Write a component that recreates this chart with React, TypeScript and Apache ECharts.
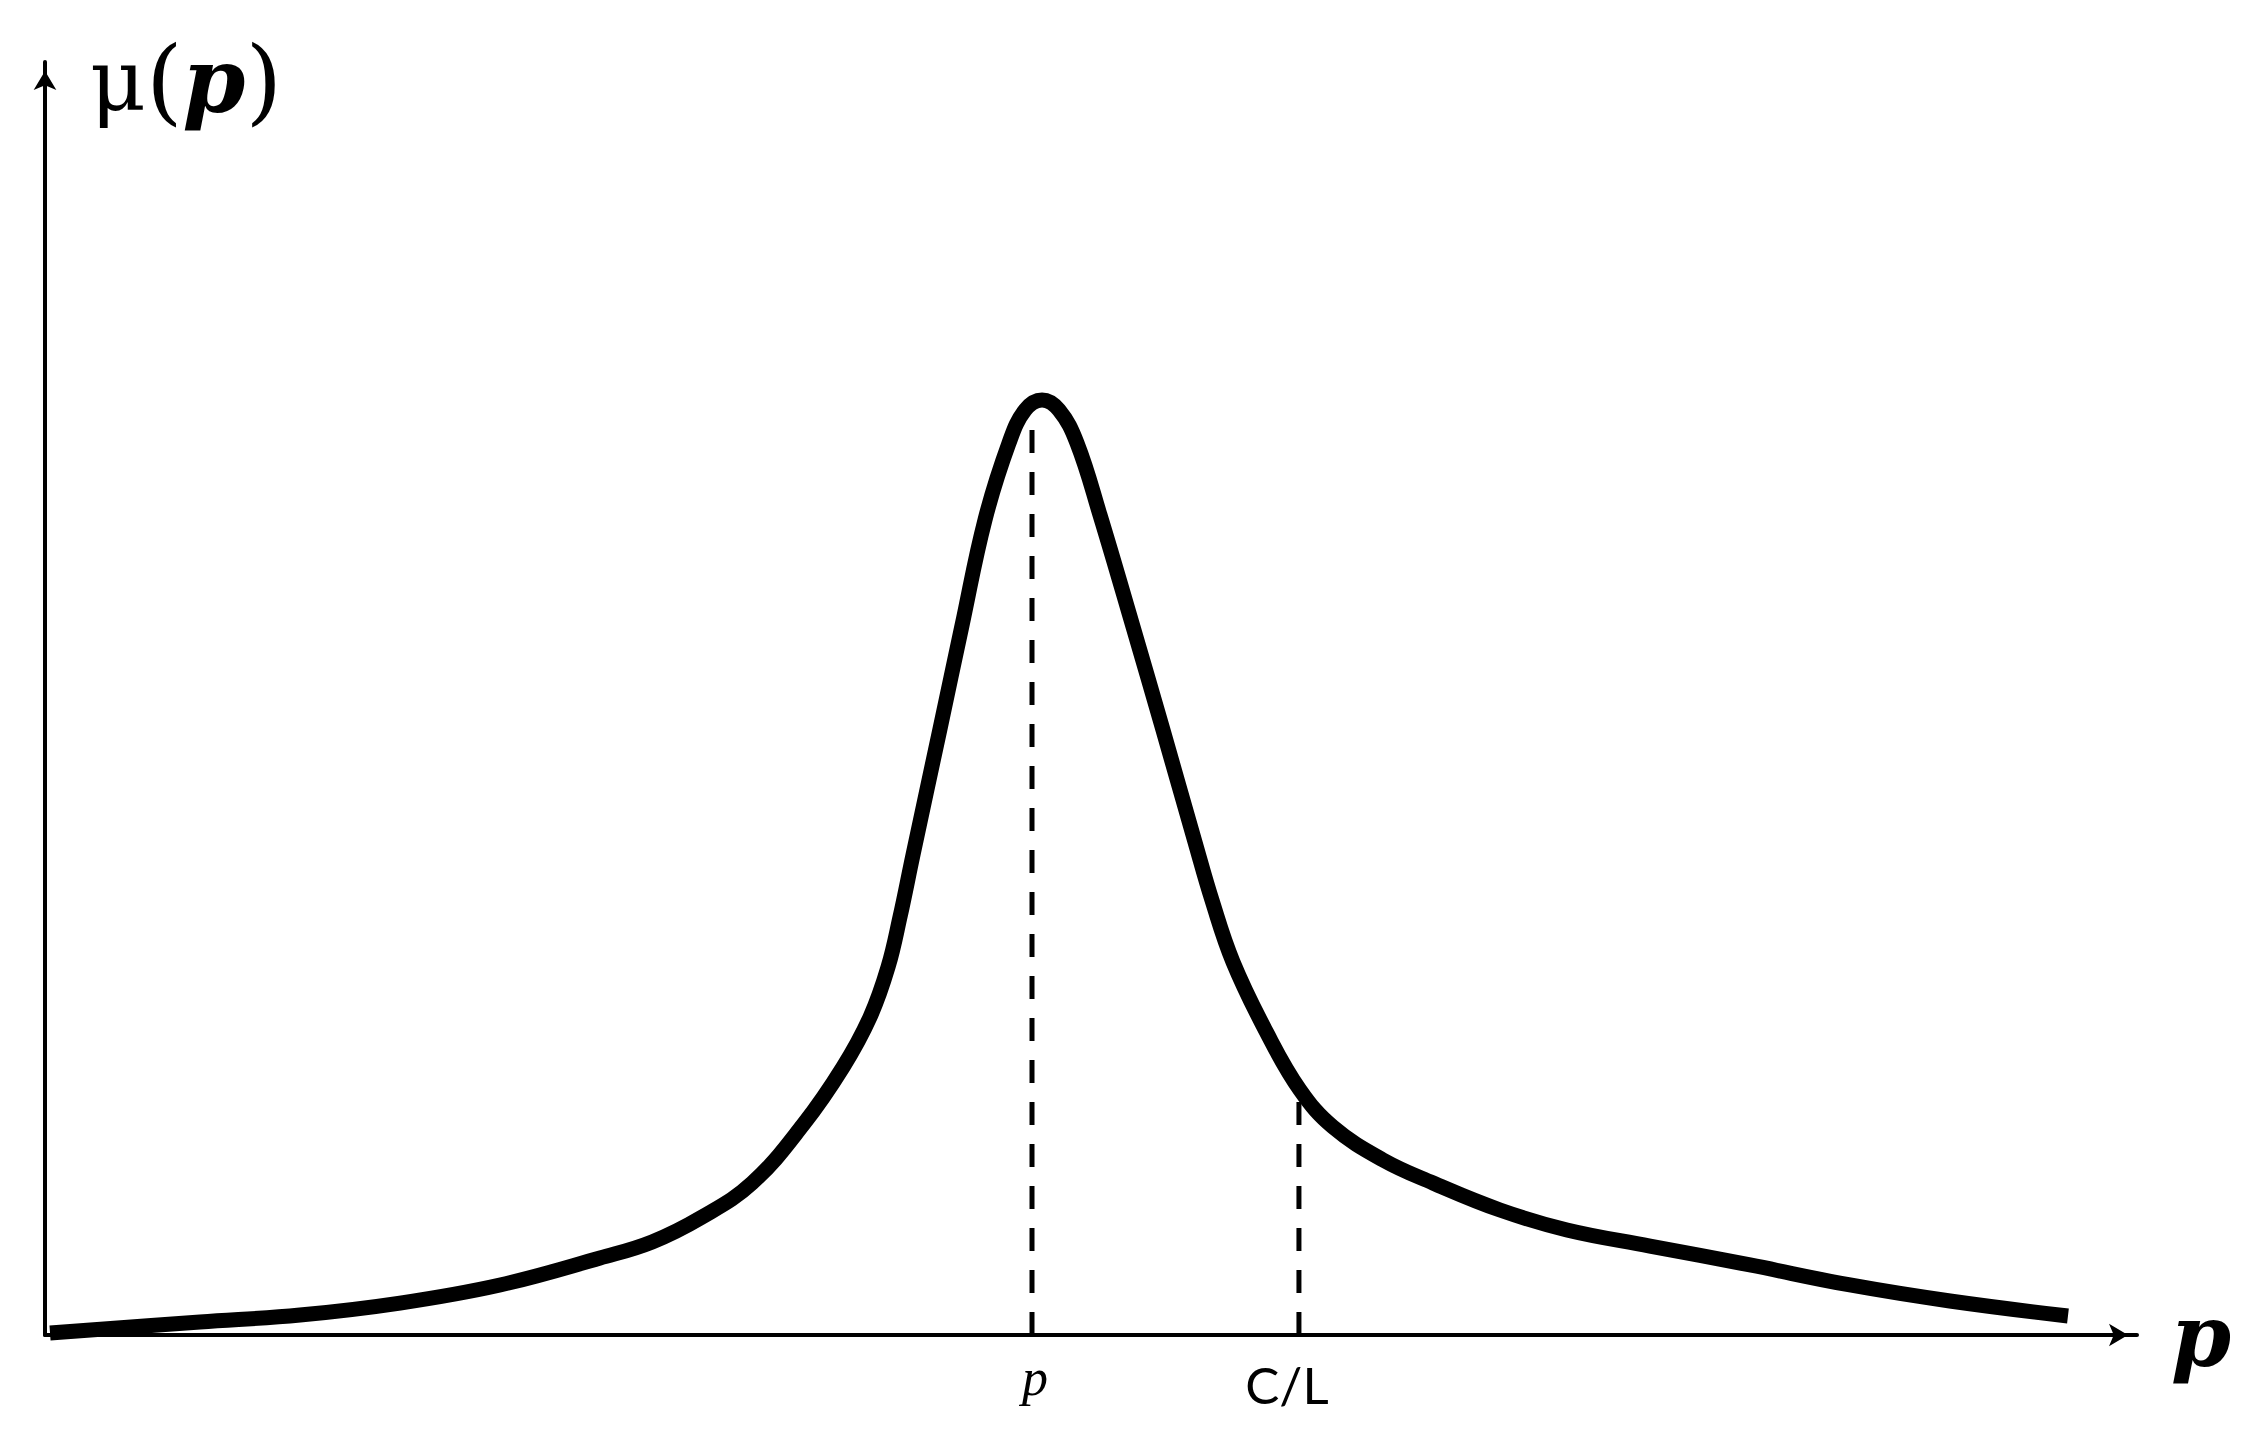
import React, { useEffect, useRef } from "react";
import * as echarts from "echarts";

// Curve mu(p): x positions and values (axis units, 0..100)
const curveX = [0.24, 7.41, 12.19, 16.97, 21.75, 26.53, 29.02, 31.41, 33.8, 36.23, 38.15, 39.44, 40.3, 40.87, 41.49, 42.78, 43.83, 44.93, 46.08, 46.85, 47.66, 48.47, 49.33, 50.43, 52.01, 53.44, 54.97, 55.78, 56.79, 58.41, 59.99, 61.57, 63.96, 66.35, 69.55, 72.75, 76.72, 81.5, 86.28, 91.06, 96.7];
const curveY = [0.16, 1.02, 1.57, 2.51, 3.93, 6.05, 7.31, 9.27, 11.94, 16.5, 21.05, 24.98, 28.91, 32.84, 37.71, 47.6, 55.7, 64.02, 70.07, 72.66, 73.45, 72.66, 70.07, 64.41, 55.62, 47.53, 38.73, 34.17, 29.3, 23.72, 19.25, 16.34, 13.75, 11.94, 9.82, 8.25, 6.99, 5.5, 3.93, 2.67, 1.49];

// Marked positions on the p axis and heights of dashed guides
const tickValues = [47.18, 59.94];
const tickLabels = ["p", "C/L"];
const guideTops = [72.0, 19.0];

export default function App() {
  const ref = useRef<HTMLDivElement>(null);
  useEffect(() => {
    if (!ref.current) return;
    const chart = echarts.init(ref.current, null, { renderer: "svg" });
    const curve = curveX.map((x, i) => [x, curveY[i]]);
    const guides = tickValues.map((x, i) => ({
      type: "line",
      data: [
        [x, 0],
        [x, guideTops[i]],
      ],
      symbol: "none",
      silent: true,
      z: 1,
      lineStyle: { color: "#000", width: 5, type: [23, 19] },
    }));
    chart.setOption({
      animation: false,
      backgroundColor: "#fff",
      grid: { left: 45, right: 116, top: 62, bottom: 98, containLabel: false },
      xAxis: {
        type: "value",
        min: 0,
        max: 100,
        splitLine: { show: false },
        axisTick: { show: false },
        axisLine: {
          show: true,
          onZero: false,
          symbol: ["none", "arrow"],
          symbolSize: [17, 19],
          symbolOffset: [0, -9],
          lineStyle: { color: "#000", width: 4 },
        },
        axisLabel: {
          show: true,
          customValues: tickValues,
          margin: 16,
          formatter: (v: number) => {
            const idx = tickValues.findIndex((t) => Math.abs(t - v) < 0.01);
            const lab = idx >= 0 ? tickLabels[idx] : "";
            return lab === "p" ? "{i|" + lab + "}" : "{n|" + lab + "}";
          },
          rich: {
            i: { fontFamily: "Liberation Serif", fontStyle: "italic", fontSize: 52, color: "#000", padding: [0, 0, 0, 6] },
            n: { fontFamily: "Lato", fontSize: 51, color: "#000", padding: [8, 24, 0, 0] },
          },
        },
        name: "{b|p}",
        nameLocation: "end",
        nameGap: 34,
        nameTextStyle: {
          rich: {
            b: { fontFamily: "DejaVu Serif", fontStyle: "italic", fontWeight: "bold", fontSize: 86, color: "#000" },
          },
        },
      },
      yAxis: {
        type: "value",
        min: 0,
        max: 100,
        splitLine: { show: false },
        axisTick: { show: false },
        axisLabel: { show: false },
        axisLine: {
          show: true,
          onZero: false,
          symbol: ["none", "arrow"],
          symbolSize: [17, 19],
          symbolOffset: [0, -9],
          lineStyle: { color: "#000", width: 4 },
        },
        name: "{m|μ}{r|(}{b|p}{r|)}",
        nameLocation: "end",
        nameGap: -18,
        nameTextStyle: {
          align: "left",
          verticalAlign: "middle",
          padding: [0, 0, 0, 45],
          rich: {
            m: { fontFamily: "DejaVu Serif", fontSize: 86, color: "#000" },
            r: { fontFamily: "DejaVu Serif", fontSize: 94, color: "#000" },
            b: { fontFamily: "DejaVu Serif", fontStyle: "italic", fontWeight: "bold", fontSize: 90, color: "#000" },
          },
        },
      },
      series: [
        ...guides,
        {
          type: "line",
          data: curve,
          symbol: "none",
          smooth: 0.4,
          z: 3,
          lineStyle: { color: "#000", width: 15, cap: "butt", join: "round" },
        },
      ],
    });
    return () => chart.dispose();
  }, []);
  return (
    <div
      ref={ref}
      style={{ position: "absolute", left: 0, top: 0, width: 2253, height: 1433 }}
    />
  );
}
